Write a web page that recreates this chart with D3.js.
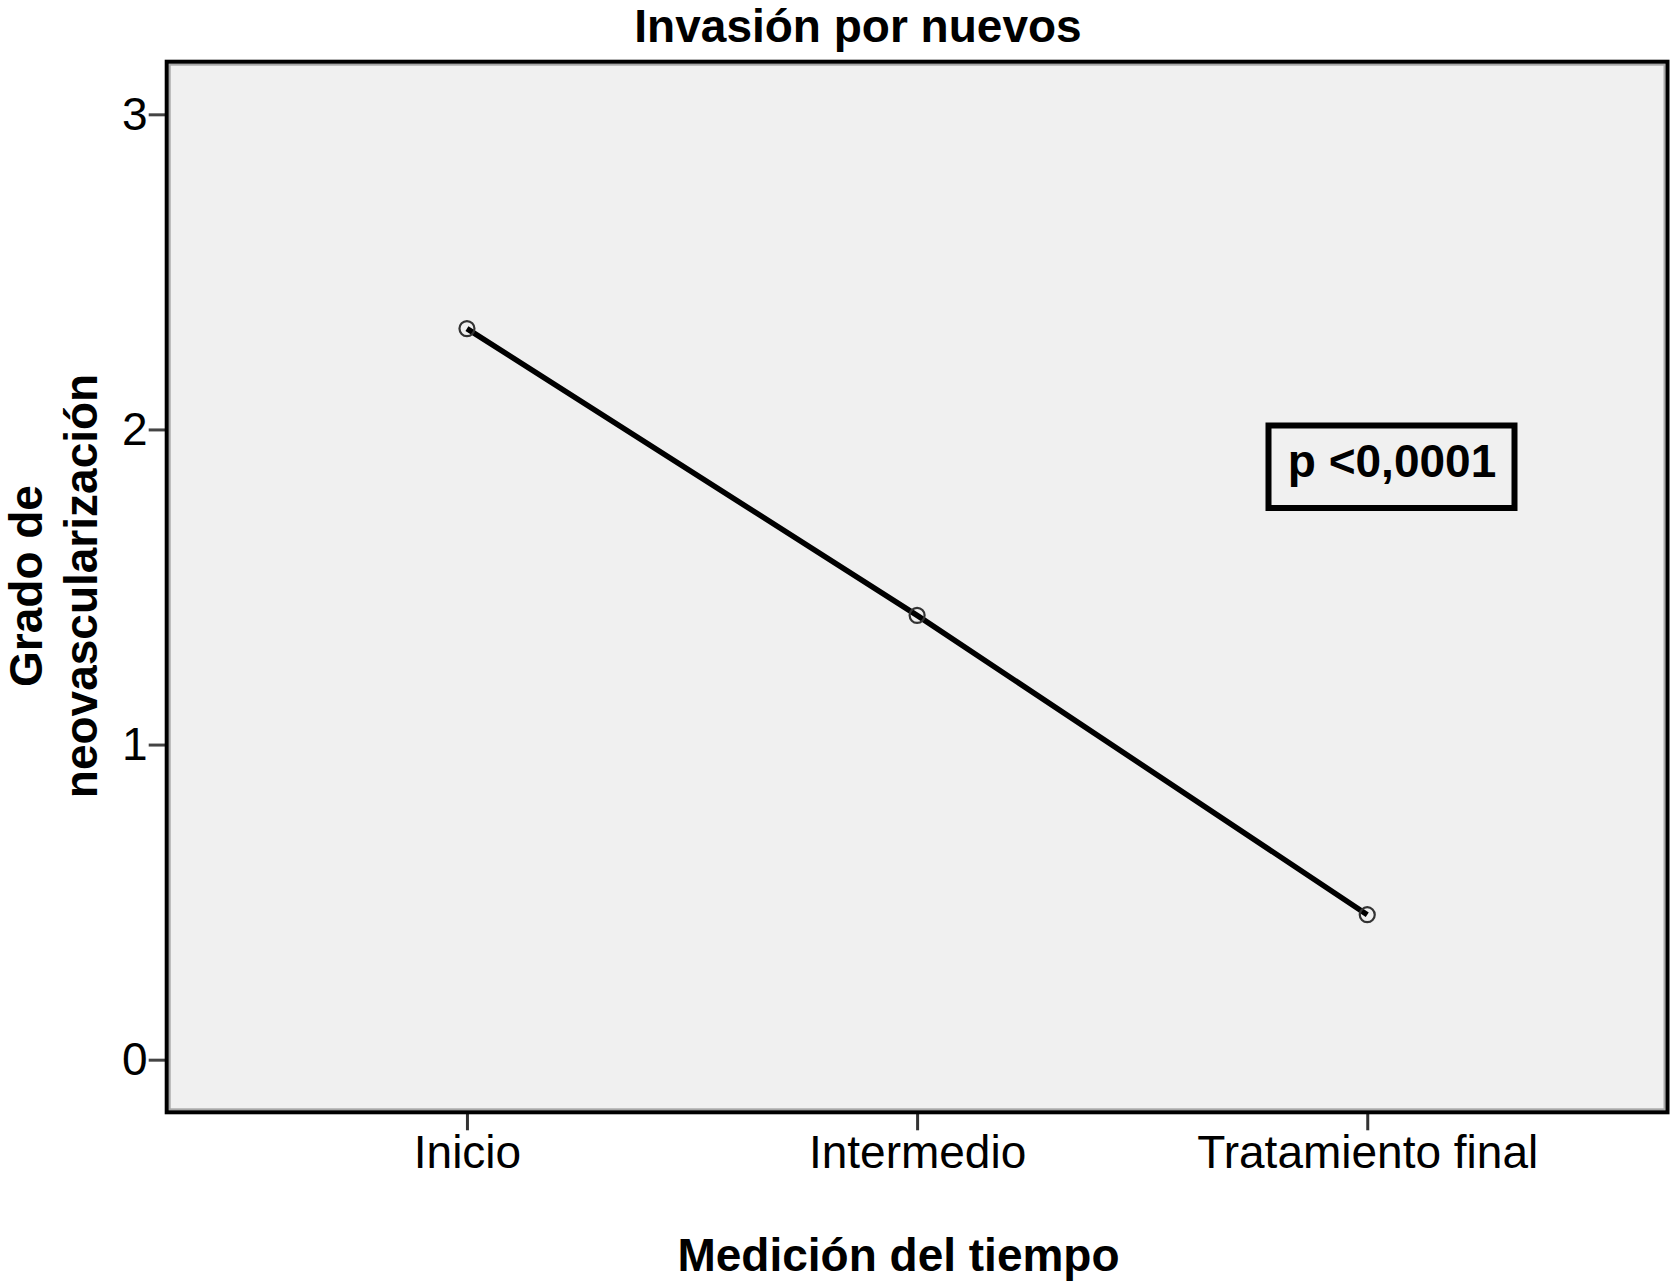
<!DOCTYPE html>
<html>
<head>
<meta charset="utf-8">
<script src="https://cdn.jsdelivr.net/npm/d3@7"></script>
<style>
body { margin: 0; background: #ffffff; }
text { font-family: "Liberation Sans", Arial, sans-serif; fill: #000; }
</style>
</head>
<body>
<script>
// data
var categories = ["Inicio", "Intermedio", "Tratamiento final"];
var means = [2.32, 1.41, 0.46];
var yTicks = [0, 1, 2, 3];
var title = "Invasión por nuevos";
var xTitle = "Medición del tiempo";
var yTitle = ["Grado de", "neovascularización"];
var pLabel = "p <0,0001";

var width = 1676
var height = 1284
// plot frame (note: "top" is taken by window.top, so use other names)
var plotL = 166.7, plotR = 1667.5, plotT = 61.7, plotB = 1112.3

var svg = d3.select("body")
    .append("svg")
    .attr("width", width)
    .attr("height", height);

var x = d3.scalePoint()
    .domain(categories)
    .range([plotL, plotR])
    .padding(0.667);

var y = d3.scaleLinear()
    .domain([-0.167, 3.167])
    .range([plotB, plotT]);

// plot background
svg.append("rect")
    .attr("x", plotL).attr("y", plotT)
    .attr("width", plotR - plotL).attr("height", plotB - plotT)
    .attr("fill", "#f0f0f0");

// axes
var yAxis = d3.axisLeft(y).tickValues(yTicks).tickSize(18).tickPadding(1).tickFormat(d3.format("d"));
var gy = svg.append("g").attr("transform", "translate(" + plotL + ",0)").call(yAxis);
gy.select(".domain").remove();
gy.selectAll(".tick line").attr("stroke", "#444").attr("stroke-width", 3);
gy.selectAll(".tick text").style("font-size", "46px").attr("fill", "#000");

var xAxis = d3.axisBottom(x).tickSize(18).tickPadding(5);
var gx = svg.append("g").attr("transform", "translate(0," + plotB + ")").call(xAxis);
gx.select(".domain").remove();
gx.selectAll(".tick line").attr("stroke", "#333").attr("stroke-width", 3);
gx.selectAll(".tick text").style("font-size", "46px").attr("fill", "#000");

// frame with the grey inner edge
svg.append("rect")
    .attr("x", plotL + 3).attr("y", plotT + 3)
    .attr("width", plotR - plotL - 6).attr("height", plotB - plotT - 6)
    .attr("fill", "none").attr("stroke", "#a8a8a8").attr("stroke-width", 2);
svg.append("rect")
    .attr("x", plotL).attr("y", plotT)
    .attr("width", plotR - plotL).attr("height", plotB - plotT)
    .attr("fill", "none").attr("stroke", "#000").attr("stroke-width", 4);

// line of means
var pts = categories.map(function(c, i){ return {cat: c, value: means[i]}; });
var line = d3.line()
    .x(function(d){ return x(d.cat); })
    .y(function(d){ return y(d.value); });

svg.append("path")
    .datum(pts)
    .attr("d", line)
    .attr("fill", "none")
    .attr("stroke", "#000")
    .attr("stroke-width", 5.5);

svg.selectAll("circle.pt")
    .data(pts)
    .enter()
    .append("circle")
    .attr("class", "pt")
    .attr("cx", function(d){ return x(d.cat); })
    .attr("cy", function(d){ return y(d.value); })
    .attr("r", 7.5)
    .attr("fill", "none")
    .attr("stroke", "#333")
    .attr("stroke-width", 2.2);

// p value box
svg.append("rect")
    .attr("x", 1268.5).attr("y", 425.5)
    .attr("width", 246).attr("height", 82.5)
    .attr("fill", "none").attr("stroke", "#000").attr("stroke-width", 6);
svg.append("text")
    .attr("x", 1392).attr("y", 476.5)
    .attr("text-anchor", "middle")
    .style("font-size", "46px").style("font-weight", "bold")
    .text(pLabel);

// titles
svg.append("text")
    .attr("x", 858).attr("y", 42)
    .attr("text-anchor", "middle")
    .style("font-size", "46px").style("font-weight", "bold")
    .text(title);

svg.append("text")
    .attr("x", 898.5).attr("y", 1271)
    .attr("text-anchor", "middle")
    .style("font-size", "46px").style("font-weight", "bold")
    .text(xTitle);

var yMid = (plotT + plotB) / 2;
svg.selectAll("text.ytitle")
    .data(yTitle)
    .enter()
    .append("text")
    .attr("class", "ytitle")
    .attr("text-anchor", "middle")
    .attr("transform", function(d, i){ return "translate(" + (41.7 + i * 55) + "," + (yMid - 1) + ") rotate(-90)"; })
    .style("font-size", "46px").style("font-weight", "bold")
    .text(function(d){ return d; });
</script>
</body>
</html>
